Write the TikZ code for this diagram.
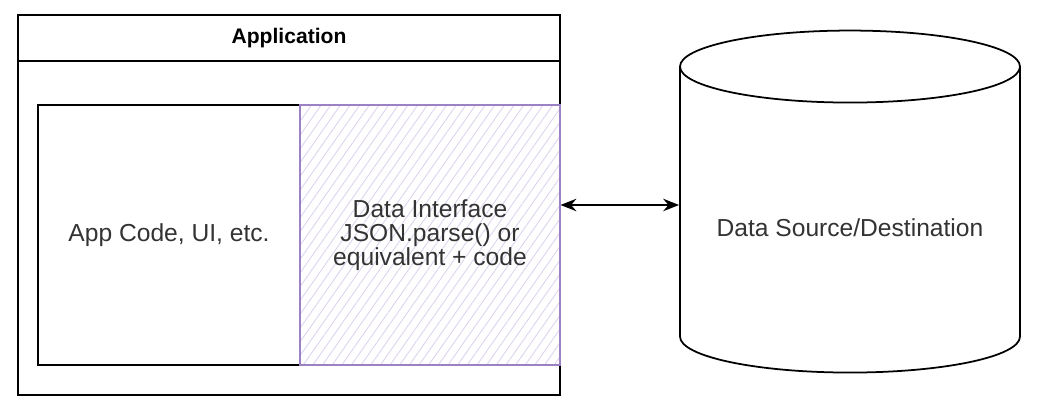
\documentclass[tikz,border=0pt]{standalone}
\usepackage{fontspec}
\setmainfont{Liberation Sans}
\usetikzlibrary{shapes.geometric,arrows.meta,patterns.meta}
\pgfdeclarelayer{bg}
\pgfsetlayers{bg,main}
\definecolor{ink}{HTML}{333333}
\definecolor{lilac}{HTML}{9C82C4}
\definecolor{lilachatch}{HTML}{DDD3EE}
\begin{document}
\begin{tikzpicture}[
        box/.style={draw, line width=1pt, rectangle, inner sep=0pt},
        boxtext/.style={text=ink, font=\fontsize{14}{13.8}\selectfont, align=center},
        ]
        \useasboundingbox (0cm, 0cm) rectangle (20.920000cm, -8.240000cm);
        \node (app) [box, minimum width=10.840000cm, minimum height=7.600000cm] at (5.780000cm, -4.100000cm) {};
        \node (title) [inner sep=0pt, minimum width=10.840000cm, minimum height=0.920000cm, font=\bfseries\fontsize{12}{14}\selectfont] at (5.780000cm, -0.760000cm) {Application};
        \node (code) [box, boxtext, minimum width=5.240000cm, minimum height=5.200000cm] at (3.380000cm, -4.700000cm) {App Code, UI, etc.};
        \node (iface) [box, boxtext, draw=lilac, pattern={Lines[angle=55,distance=4.5pt,line width=0.5pt]}, pattern color=lilachatch, minimum width=5.200000cm, minimum height=5.200000cm] at (8.600000cm, -4.700000cm) {Data Interface\\JSON.parse() or\\equivalent + code};
        \node (store) [cylinder, shape border rotate=90, aspect=0.27, draw, line width=1pt, boxtext, text height=19pt, inner sep=0pt, minimum width=6.800000cm, minimum height=6.840000cm] at (17.000000cm, -4.400000cm) {Data Source/Destination};
        \begin{pgfonlayer}{bg}
                \draw [line width=1pt] (title.south west) -- (title.south east);
                \draw [<->, >={Stealth[length=9pt, width=7pt]}, line width=1.5pt] ([yshift=0.3cm]store.west -| iface.east) -- ([yshift=0.3cm]store.west);
        \end{pgfonlayer}
\end{tikzpicture}
\end{document}
